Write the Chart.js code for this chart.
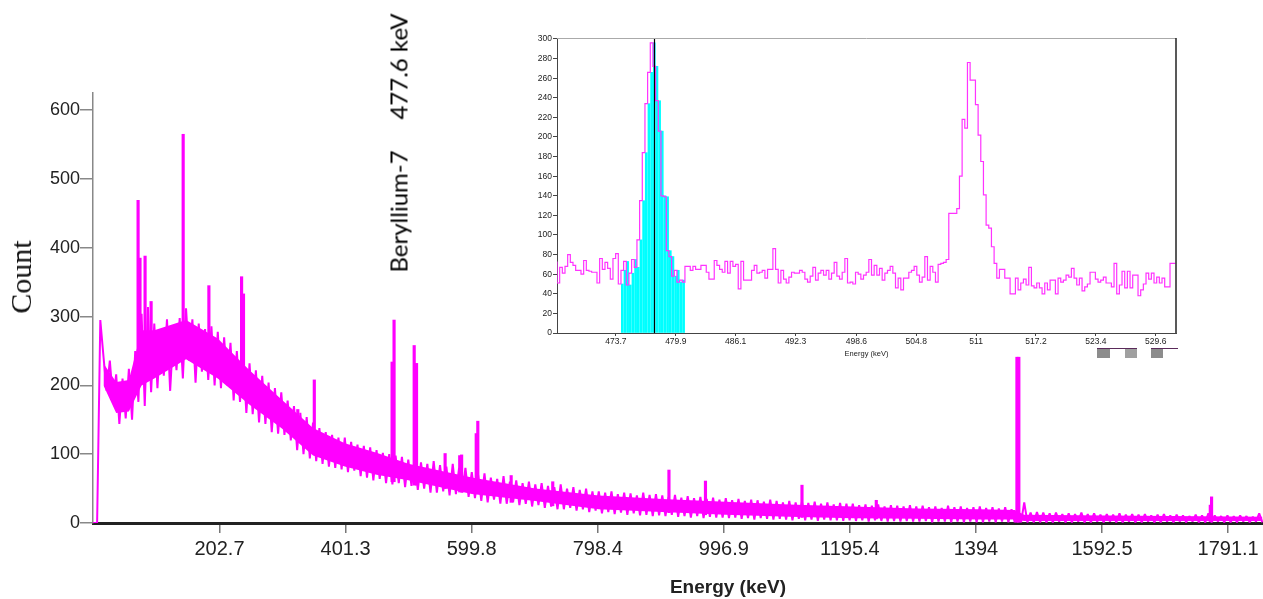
<!DOCTYPE html>
<html>
<head>
<meta charset="utf-8">
<script src="https://cdn.jsdelivr.net/npm/chart.js@4.4.1/dist/chart.umd.min.js"></script>
<style>
  html, body { margin: 0; padding: 0; background: #fff; overflow: hidden; }
  #wrap { position: relative; width: 1263px; height: 599px; }
  canvas { position: absolute; }
  #spectrum { left: 0; top: 0; }
  #inset { left: 520px; top: 30px; }
  .label { position: absolute; white-space: pre; transform: translate(-50%, -50%); color: #111; }
  .vertical { transform: translate(-50%, -50%) rotate(-90deg); }
  .scroll { position: absolute; top: 348px; height: 9px; border-top: 1px solid #5a2a5a; }
  .scroll span { position: absolute; top: 0; height: 9px; background: #8c8c8c; }
</style>
</head>
<body>
<div id="wrap">
  <canvas id="spectrum" width="1263" height="599"></canvas>
  <canvas id="inset" width="660" height="328"></canvas>
  <div class="label vertical" style="left:21px; top:277px; font: 30px 'Liberation Serif', 'Times New Roman', serif;">Count</div>
  <div class="label" style="left:728px; top:587px; font: bold 19px 'Liberation Sans', Arial, sans-serif; color:#222;">Energy (keV)</div>
  <div class="label vertical" style="left:398px; top:143px; font: 24px Lato, 'Liberation Sans', sans-serif; color:#000;">Beryllium-7     477.6 keV</div>
  <div class="scroll" style="left:1097px; width:40px;"><span style="left:0; width:13px;"></span><span style="left:28px; width:12px; background:#a0a0a0;"></span></div>
  <div class="scroll" style="left:1151px; width:27px;"><span style="left:0; width:12px;"></span></div>
</div>
<script>
// ---- main spectrum: 5 keV bins from 0 keV ----
const spectrumStart = 0;
const spectrumStep = 5;
const spectrumCounts = [
  0, 0, 0, 295, 242, 192, 236, 178, 216, 144, 210, 152, 224, 150, 250, 176, 304, 170, 314, 190,
  290, 196, 282, 214, 296, 192, 276, 222, 298, 210, 312, 236, 296, 204, 290, 220, 282, 208, 286, 200,
  278, 196, 270, 200, 262, 178, 250, 176, 240, 160, 232, 158, 222, 146, 214, 144, 204, 132, 196, 130,
  190, 128, 178, 120, 170, 106, 160, 100, 154, 94, 146, 90, 138, 86, 132, 82, 128, 80, 124, 78,
  124, 74, 118, 76, 114, 68, 112, 66, 110, 62, 106, 64, 102, 58, 100, 56, 98, 58, 96, 52,
  92, 54, 90, 48, 88, 50, 86, 44, 90, 44, 84, 46, 82, 40, 86, 42, 80, 44, 80, 38,
  74, 36, 70, 32, 72, 30, 66, 34, 64, 28, 68, 28, 60, 30, 62, 26, 58, 28, 60, 24,
  56, 26, 58, 22, 54, 24, 52, 20, 56, 20, 50, 22, 52, 18, 48, 20, 50, 16, 46, 18,
  46, 14, 44, 16, 46, 13, 42, 15, 44, 12, 43, 14, 40, 11, 44, 12, 41, 10, 42, 11,
  40, 10, 38, 12, 41, 9, 37, 10, 39, 8, 36, 10, 38, 7, 35, 9, 37, 8, 34, 8,
  36, 7, 33, 8, 35, 6, 32, 7, 34, 5, 33, 7, 31, 6, 34, 5, 32, 6, 30, 5,
  32, 4, 30, 6, 31, 4, 29, 5, 31, 3, 28, 5, 30, 4, 27, 4, 29, 3, 28, 4,
  28, 3, 26, 4, 27, 2, 25, 4, 27, 3, 24, 2, 26, 3, 25, 2, 24, 3, 26, 2,
  24, 2, 25, 3, 23, 1, 24, 2, 22, 2, 25, 1, 23, 2, 24, 1, 22, 2, 23, 1,
  24, 1, 22, 2, 23, 1, 21, 2, 23, 1, 20, 1, 22, 1, 30, 1, 15, 1, 16, 1,
  15, 1, 14, 1, 15, 2, 13, 1, 14, 1, 13, 2, 15, 1, 13, 1, 14, 2, 12, 1,
  13, 2, 12, 1, 14, 1, 12, 2, 13, 1, 12, 1, 13, 2, 11, 1, 12, 1, 13, 2,
  11, 1, 12, 2, 11, 1, 10, 2, 12, 1, 11, 1, 14, 1, 11, 2, 10, 1, 11, 1,
  10, 1, 11, 2, 10, 1, 9, 2, 14, 1
];

// dense core of the continuum (where the channel noise overlaps completely)
const coreEnergies = [20, 40, 60, 80, 100, 150, 200, 250, 300, 350, 400, 450, 500, 600, 700, 800, 900, 1000, 1100, 1200, 1300, 1400, 1455, 1470, 1600, 1700, 1845];
const coreLow = [200, 160, 162, 200, 210, 238, 210, 172, 138, 98, 82, 70, 62, 42, 32, 20, 16, 12, 9, 7, 6, 5, 5, 3, 3, 3, 3];
const coreHigh = [232, 205, 208, 280, 280, 295, 268, 222, 180, 138, 116, 102, 86, 66, 50, 40, 35, 31, 27, 24, 21, 20, 19, 12, 11, 10, 9];

// narrow photopeaks sitting on the continuum
const peakEnergies = [74.5, 77.5, 85.5, 95, 145.5, 186, 237.5, 240.5, 326, 352, 474.5, 477.6, 509.3, 513, 558, 581, 584, 607, 609.5, 662, 727.5, 910.5, 968, 1120, 1237, 1458.5, 1461.5, 1763, 1765];
const peakFloor = [240, 250, 240, 230, 280, 250, 200, 200, 130, 110, 60, 60, 55, 55, 50, 45, 45, 45, 45, 30, 25, 15, 12, 8, 6, 0, 0, 2, 2];
const peakTop = [469, 385, 388, 322, 565, 345, 358, 333, 165, 208, 234, 295, 258, 232, 101, 98, 99, 130, 148, 69, 60, 77, 61, 55, 33, 241, 241, 26, 38];

const energyTicks = [202.7, 401.3, 599.8, 798.4, 996.9, 1195.4, 1394, 1592.5, 1791.1];
const countTicks = [0, 100, 200, 300, 400, 500, 600];

// ---- zoomed window around 477.6 keV and 511 keV ----
const insetStart = 467.6;
const insetBinWidth = 0.276;
const insetCounts = [
  73, 51, 67, 61, 68, 80, 72, 69, 64, 64, 60, 74, 64, 63, 62, 62, 51, 76, 65, 72, 66, 55, 76, 81,
  50, 64, 73, 49, 61, 75, 67, 95, 135, 184, 234, 266, 296, 272, 237, 206, 140, 139, 84, 78, 58, 64, 52, 54,
  52, 68, 68, 64, 68, 65, 65, 69, 69, 62, 55, 55, 74, 69, 65, 62, 73, 61, 73, 68,
  70, 45, 73, 54, 54, 54, 64, 69, 61, 62, 64, 56, 65, 65, 86, 65, 51, 64, 55, 51,
  57, 62, 61, 61, 64, 62, 55, 52, 58, 67, 54, 61, 64, 59, 64, 55, 61, 72, 58, 55,
  62, 76, 51, 52,
  50, 62, 60, 55, 59, 62, 75, 59, 69, 59, 66, 54, 61, 64, 68, 61, 46, 56, 44, 56,
  56, 62, 64, 68, 59, 52, 57, 78, 54, 68, 62, 52, 70, 71, 72, 75, 122, 122, 122, 127,
  160, 218, 209, 276, 258, 258, 233, 202, 175, 141, 110, 107, 88,
  71, 56, 65, 65, 56, 56, 40, 40, 56, 44, 51, 55, 49, 67, 48, 46, 51, 46, 40, 51,
  44, 54, 54, 40, 56, 52, 54, 59, 57, 66, 56, 49, 56, 43, 47, 50, 62, 62, 55, 52,
  54, 57, 51, 51, 47, 71, 40, 49, 63, 46, 63, 46, 59, 59, 38, 44, 50, 61, 55, 61,
  51, 57, 51, 56, 47, 47, 71
];
const roiLow = 474.2;
const roiHigh = 480.9;
const berylliumEnergy = 477.6;
const insetTicks = [473.7, 479.9, 486.1, 492.3, 498.6, 504.8, 511, 517.2, 523.4, 529.6];
const insetCountTicks = [0, 20, 40, 60, 80, 100, 120, 140, 160, 180, 200, 220, 240, 260, 280, 300];

const FONT = "'Liberation Sans', Arial, sans-serif";
const MAGENTA = '#ff00ff';

function fixedTicks(values) {
    return scale => { scale.ticks = values.map(v => ({ value: v })); };
}

function drawSpectrum() {
    const trace = spectrumCounts.map((c, i) => ({ x: spectrumStart + i * spectrumStep, y: c }));
    const spikes = peakEnergies.map((e, i) => ({ x: e, y: [peakFloor[i], peakTop[i]] }));
    const lowEdge = coreEnergies.map((e, i) => ({ x: e, y: coreLow[i] }));
    const highEdge = coreEnergies.map((e, i) => ({ x: e, y: coreHigh[i] }));

    new Chart(document.getElementById('spectrum'), {
        type: 'line',
        data: {
            datasets: [
                {
                    type: 'bar',
                    data: spikes,
                    backgroundColor: MAGENTA,
                    barThickness: 2.5,
                    order: 0
                },
                {
                    type: 'line',
                    data: trace,
                    borderColor: MAGENTA,
                    borderWidth: 2,
                    borderJoinStyle: 'bevel',
                    pointRadius: 0,
                    order: 1
                },
                {
                    type: 'line',
                    data: lowEdge,
                    borderWidth: 0,
                    pointRadius: 0,
                    order: 2
                },
                {
                    type: 'line',
                    data: highEdge,
                    borderWidth: 0,
                    pointRadius: 0,
                    fill: '-1',
                    backgroundColor: MAGENTA,
                    order: 2
                }
            ]
        },
        options: {
            responsive: false,
            animation: false,
            events: [],
            layout: { padding: { top: 93, right: 0, left: 0, bottom: 0 } },
            plugins: { legend: { display: false }, tooltip: { enabled: false } },
            scales: {
                x: {
                    type: 'linear',
                    min: 3.5,
                    max: 1846,
                    offset: false,
                    grid: { offset: false, drawOnChartArea: false, tickLength: 10, color: '#777', lineWidth: 1.5 },
                    border: { color: '#222', width: 3 },
                    ticks: {
                        font: { family: FONT, size: 20 },
                        color: '#222',
                        padding: 4,
                        maxRotation: 0,
                        autoSkip: false,
                        callback: v => String(v)
                    },
                    afterBuildTicks: fixedTicks(energyTicks),
                    afterFit: s => { s.height = 76; }
                },
                y: {
                    min: 0,
                    max: 625,
                    grid: { drawOnChartArea: false, tickLength: 13, color: '#888', lineWidth: 1.5 },
                    border: { color: '#888', width: 1.5 },
                    ticks: {
                        font: { family: FONT, size: 18 },
                        color: '#222',
                        padding: 0
                    },
                    afterBuildTicks: fixedTicks(countTicks),
                    afterFit: s => { s.width = 93; }
                }
            }
        }
    });
}

// white plot background, frame and the 477.6 keV marker for the zoom window
const insetFrame = {
    id: 'insetFrame',
    beforeDraw(chart) {
        const { ctx, chartArea: a } = chart;
        ctx.save();
        ctx.fillStyle = '#fff';
        ctx.fillRect(a.left, a.top, a.right - a.left, a.bottom - a.top);
        ctx.restore();
    },
    afterDatasetsDraw(chart) {
        const { ctx, chartArea: a } = chart;
        const x = Math.round(chart.scales.x.getPixelForValue(berylliumEnergy)) + 0.5;
        ctx.save();
        ctx.strokeStyle = '#000';
        ctx.lineWidth = 1.2;
        ctx.beginPath();
        ctx.moveTo(x, a.top);
        ctx.lineTo(x, a.bottom);
        ctx.stroke();
        ctx.lineWidth = 1;
        ctx.strokeStyle = '#aaa';
        ctx.beginPath();
        ctx.moveTo(a.left, a.top + 0.5);
        ctx.lineTo(a.right, a.top + 0.5);
        ctx.stroke();
        ctx.strokeStyle = '#222';
        ctx.lineWidth = 1.5;
        ctx.beginPath();
        ctx.moveTo(a.right, a.top);
        ctx.lineTo(a.right, a.bottom);
        ctx.stroke();
        ctx.restore();
    }
};

function drawInset() {
    const steps = insetCounts.map((c, i) => ({ x: insetStart + i * insetBinWidth, y: c }));
    steps.push({ x: insetStart + insetCounts.length * insetBinWidth, y: insetCounts[insetCounts.length - 1] });

    const roiBars = insetCounts
        .map((c, i) => ({ x: insetStart + (i + 0.5) * insetBinWidth, y: c }))
        .filter(p => p.x >= roiLow && p.x <= roiHigh);

    new Chart(document.getElementById('inset'), {
        type: 'line',
        data: {
            datasets: [
                {
                    type: 'line',
                    data: steps,
                    stepped: 'after',
                    borderColor: '#ff33ff',
                    borderWidth: 1.2,
                    pointRadius: 0,
                    order: 0
                },
                {
                    type: 'bar',
                    data: roiBars,
                    backgroundColor: '#00ffff',
                    barThickness: 2,
                    order: 1
                }
            ]
        },
        options: {
            responsive: false,
            animation: false,
            events: [],
            layout: { padding: { top: 8, right: 4, left: 0, bottom: 0 } },
            plugins: { legend: { display: false }, tooltip: { enabled: false } },
            scales: {
                x: {
                    type: 'linear',
                    min: insetStart,
                    max: 531.7,
                    offset: false,
                    grid: { offset: false, drawOnChartArea: false, tickLength: 3, color: '#444' },
                    border: { color: '#444', width: 1 },
                    ticks: {
                        font: { family: FONT, size: 8.5 },
                        color: '#222',
                        padding: 1,
                        maxRotation: 0,
                        autoSkip: false,
                        callback: v => String(v)
                    },
                    title: {
                        display: true,
                        text: 'Energy (keV)',
                        font: { family: FONT, size: 7.5 },
                        color: '#222',
                        padding: { top: 1, bottom: 0 }
                    },
                    afterBuildTicks: fixedTicks(insetTicks),
                    afterFit: s => { s.height = 25; }
                },
                y: {
                    min: 0,
                    max: 301,
                    grid: { drawOnChartArea: false, tickLength: 4, color: '#444' },
                    border: { color: '#444', width: 1 },
                    ticks: {
                        font: { family: FONT, size: 8.5 },
                        color: '#222',
                        padding: 1
                    },
                    afterBuildTicks: fixedTicks(insetCountTicks),
                    afterFit: s => { s.width = 37; }
                }
            }
        },
        plugins: [insetFrame]
    });
}

drawSpectrum();
drawInset();
</script>
</body>
</html>
